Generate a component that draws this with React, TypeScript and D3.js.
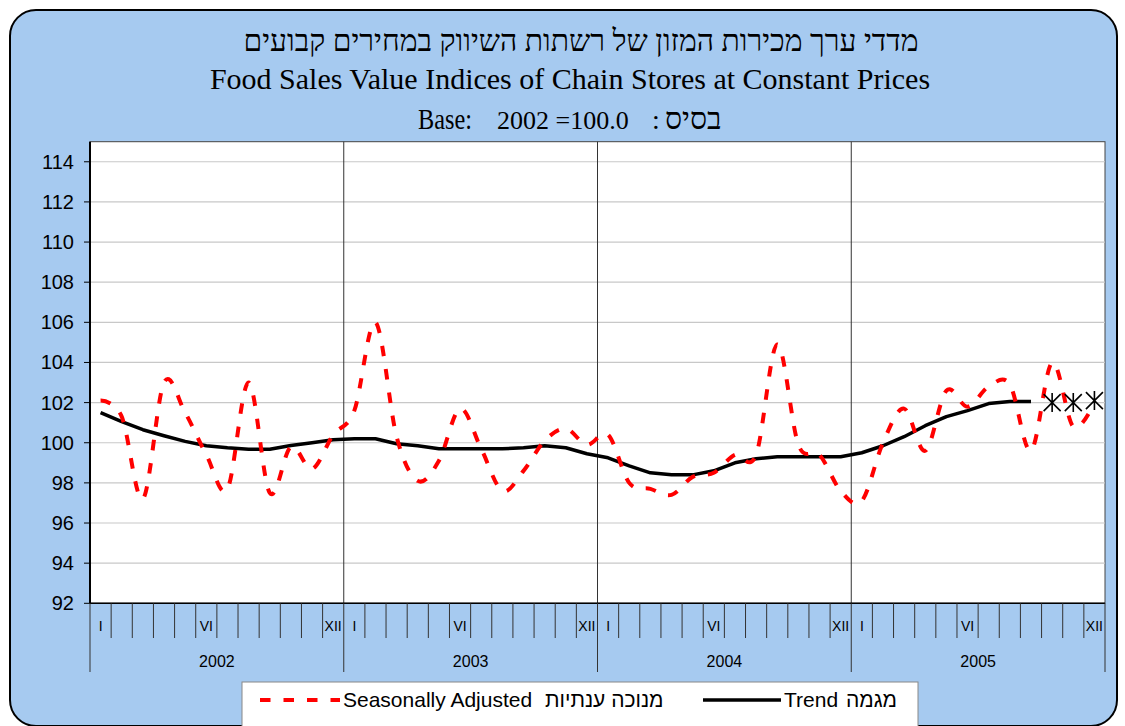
import React from "react";
import * as d3 from "d3";

const years = ["2002", "2003", "2004", "2005"];
const monthLabels = ["I", "", "", "", "", "VI", "", "", "", "", "", "XII"];

const seasonallyAdjusted = [
  102.1, 101.3, 97.2, 103.0, 101.5, 99.4, 97.7, 103.0, 97.5, 99.8, 98.7, 100.4,
  101.6, 106.0, 100.3, 98.1, 99.1, 101.7, 99.7, 97.6, 98.6, 100.1, 100.7, 99.9,
  100.4, 98.0, 97.7, 97.4, 98.3, 98.5, 99.4, 99.4, 104.9, 99.9, 99.4, 97.6,
  97.1, 100.0, 101.7, 99.6, 102.6, 101.8, 102.8, 102.9, 99.6, 104.0, 100.8, 102.0,
];

const trend = [
  101.5, 101.05, 100.65, 100.35, 100.07, 99.85, 99.75, 99.68, 99.68, 99.86, 100.0, 100.15,
  100.2, 100.2, 99.95, 99.85, 99.7, 99.7, 99.7, 99.7, 99.75, 99.85, 99.75, 99.45,
  99.25, 98.85, 98.5, 98.4, 98.4, 98.6, 99.0, 99.2, 99.3, 99.3, 99.3, 99.3,
  99.5, 99.85, 100.3, 100.85, 101.3, 101.6, 101.95, 102.05, 102.05,
];

// trend estimates shown only as markers (Oct-Dec 2005)
const trendMarkerStart = 45;
const trendMarkers = [102.0, 102.0, 102.1];

const yTicks = [92, 94, 96, 98, 100, 102, 104, 106, 108, 110, 112, 114];

const titleHe = "מדדי ערך מכירות המזון של רשתות השיווק  במחירים קבועים";
const titleEn = "Food Sales Value Indices of Chain Stores at Constant Prices";
const legendSA = "Seasonally Adjusted";
const legendSAHe = "מנוכה ענתיות";
const legendTrend = "Trend";
const legendTrendHe = "מגמה";

const W = 1125;
const H = 726;
const plot = { left: 90, right: 1105, top: 141.7, bottom: 603.3 };
const ARIAL = "Liberation Sans, Arial, sans-serif";
const SERIF = "Liberation Serif, Times New Roman, serif";

export default function App() {
  const nMonths = years.length * 12;
  const idx = d3.range(nMonths);
  const x = d3.scaleBand<number>().domain(idx).range([plot.left, plot.right]).padding(0);
  const bw = x.bandwidth();
  const cx = (i: number) => (x(i) as number) + bw / 2;
  const y = d3.scaleLinear().domain([92, 115]).range([plot.bottom, plot.top]);

  const saLine = d3
    .line<number>()
    .x((_, i) => cx(i))
    .y((v) => y(v))
    .curve(d3.curveCatmullRom.alpha(0));
  const trLine = d3
    .line<number>()
    .x((_, i) => cx(i))
    .y((v) => y(v))
    .curve(d3.curveLinear);

  const dash = "10.5 13";
  const star = (px: number, py: number, s = 8.5) =>
    `M${px - s},${py - s}L${px + s},${py + s}M${px - s},${py + s}L${px + s},${py - s}M${px},${py - s - 1}L${px},${py + s + 1}`;

  return (
    <div style={{ position: "absolute", left: 0, top: 0 }}>
      <svg width={W} height={H} style={{ display: "block" }}>
        <rect x={10} y={10} width={1107} height={716} rx={26} ry={26} fill="#a6caf0" stroke="#000" strokeWidth={2} />

        {/* titles */}
        <text x={581} y={51} textAnchor="middle" fontFamily={SERIF} fontSize={30} direction="rtl">
          {titleHe}
        </text>
        <text x={570} y={89} textAnchor="middle" fontFamily={SERIF} fontSize={30}>
          {titleEn}
        </text>
        <text x={418} y={129} fontFamily={SERIF} fontSize={29} textLength={54} lengthAdjust="spacingAndGlyphs">Base:</text>
        <text x={497} y={129} fontFamily={SERIF} fontSize={26}>2002 =100.0</text>
        <text x={652} y={129} fontFamily={SERIF} fontSize={28}>:</text>
        <text x={665} y={129} fontFamily={SERIF} fontSize={30}>בסיס</text>

        {/* plot area */}
        <rect x={plot.left} y={plot.top} width={plot.right - plot.left} height={plot.bottom - plot.top} fill="#fff" stroke="#444" strokeWidth={1} />
        {yTicks.map((t) => (
          <g key={t}>
            {t !== 92 && (
              <line x1={plot.left} x2={plot.right} y1={y(t)} y2={y(t)} stroke="#c8c8c8" strokeWidth={1.2} />
            )}
            <line x1={plot.left - 6} x2={plot.left} y1={y(t)} y2={y(t)} stroke="#000" strokeWidth={1} />
            <text x={74} y={y(t) + 7} textAnchor="end" fontFamily={ARIAL} fontSize={20} fill="#000">
              {t}
            </text>
          </g>
        ))}
        {/* year separators inside plot */}
        {years.slice(1).map((_, k) => {
          const xx = x((k + 1) * 12) as number;
          return <line key={k} x1={xx} x2={xx} y1={plot.top} y2={plot.bottom} stroke="#333" strokeWidth={1} />;
        })}
        <line x1={plot.left} x2={plot.left} y1={plot.top} y2={plot.bottom} stroke="#000" strokeWidth={2} />
        <line x1={plot.left} x2={plot.right} y1={plot.bottom} y2={plot.bottom} stroke="#000" strokeWidth={1.5} />

        {/* x axis: month ticks and labels */}
        {idx.map((i) => {
          const xl = x(i) as number;
          const isYear = i % 12 === 0;
          return (
            <g key={i}>
              <line x1={xl} x2={xl} y1={plot.bottom} y2={isYear ? 672 : 638} stroke="#333" strokeWidth={1} />
              {monthLabels[i % 12] && (
                <text x={cx(i)} y={631} textAnchor="middle" fontFamily={ARIAL} fontSize={14} fill="#000">
                  {monthLabels[i % 12]}
                </text>
              )}
            </g>
          );
        })}
        <line x1={plot.right} x2={plot.right} y1={plot.bottom} y2={672} stroke="#333" strokeWidth={1} />
        {years.map((yr, k) => {
          const x0 = x(k * 12) as number;
          const x1 = k === years.length - 1 ? plot.right : (x((k + 1) * 12) as number);
          return (
            <text key={yr} x={(x0 + x1) / 2} y={667} textAnchor="middle" fontFamily={ARIAL} fontSize={16} fill="#000">
              {yr}
            </text>
          );
        })}

        {/* series */}
        <path d={trLine(trend) || ""} fill="none" stroke="#000" strokeWidth={3.5} strokeLinejoin="round" />
        <path d={saLine(seasonallyAdjusted) || ""} fill="none" stroke="#ff0000" strokeWidth={4} strokeDasharray={dash} />
        {trendMarkers.map((v, k) => (
          <path key={k} d={star(cx(trendMarkerStart + k), y(v))} stroke="#000" strokeWidth={1.6} fill="none" />
        ))}

        {/* legend */}
        <rect x={242} y={682} width={676} height={60} fill="#fff" stroke="#888" strokeWidth={1} />
        <line x1={260} x2={340} y1={700} y2={700} stroke="#ff0000" strokeWidth={4} strokeDasharray={dash} />
        <text x={343} y={707} fontFamily={ARIAL} fontSize={21} fill="#000">{legendSA}</text>
        <text x={545} y={707} fontFamily={ARIAL} fontSize={21} fill="#000">{legendSAHe}</text>
        <line x1={703} x2={781} y1={700} y2={700} stroke="#000" strokeWidth={3.5} />
        <text x={784} y={707} fontFamily={ARIAL} fontSize={21} fill="#000">{legendTrend}</text>
        <text x={846} y={707} fontFamily={ARIAL} fontSize={21} fill="#000">{legendTrendHe}</text>
      </svg>
    </div>
  );
}
